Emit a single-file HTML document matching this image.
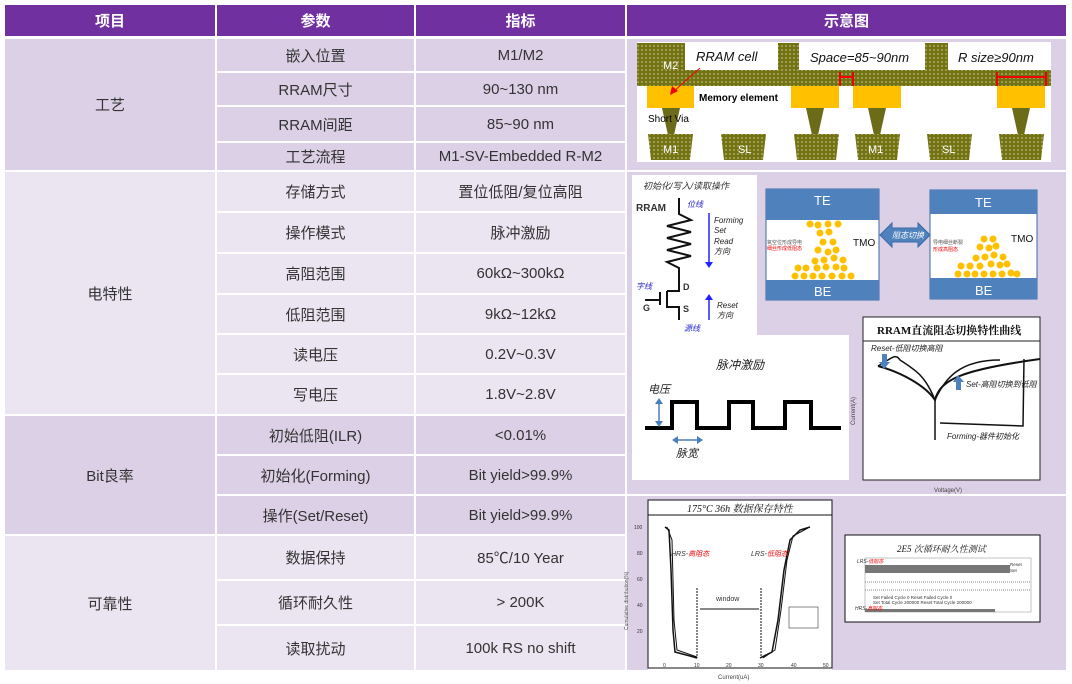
<!DOCTYPE html>
<html><head><meta charset="utf-8"><style>
*{margin:0;padding:0;box-sizing:border-box}
body{width:1072px;height:684px;background:#fff;position:relative;overflow:hidden;font-family:"Liberation Sans","Noto Sans CJK SC",sans-serif;}
.c{position:absolute;display:flex;align-items:center;justify-content:center;font-size:15px;color:#333;}
.h{background:#7030a0;color:#fff;font-weight:bold;}
.d{background:#dcd0e6}.l{background:#ebe4f1}
svg{position:absolute;left:0;top:0}
</style></head><body>
<div class="c h" style="left:5px;top:5px;width:210px;height:31px">项目</div>
<div class="c h" style="left:217px;top:5px;width:197px;height:31px">参数</div>
<div class="c h" style="left:416px;top:5px;width:209px;height:31px">指标</div>
<div class="c h" style="left:627px;top:5px;width:439px;height:31px">示意图</div>

<div class="c d" style="left:5px;top:39px;width:210px;height:131px">工艺</div>
<div class="c d" style="left:217px;top:39px;width:197px;height:32px">嵌入位置</div>
<div class="c d" style="left:416px;top:39px;width:209px;height:32px">M1/M2</div>
<div class="c d" style="left:217px;top:73px;width:197px;height:32px">RRAM尺寸</div>
<div class="c d" style="left:416px;top:73px;width:209px;height:32px">90~130 nm</div>
<div class="c d" style="left:217px;top:107px;width:197px;height:34px">RRAM间距</div>
<div class="c d" style="left:416px;top:107px;width:209px;height:34px">85~90 nm</div>
<div class="c d" style="left:217px;top:143px;width:197px;height:27px">工艺流程</div>
<div class="c d" style="left:416px;top:143px;width:209px;height:27px">M1-SV-Embedded R-M2</div>
<div class="c d" style="left:627px;top:39px;width:439px;height:131px"></div>

<div class="c l" style="left:5px;top:172px;width:210px;height:242px">电特性</div>
<div class="c l" style="left:217px;top:172px;width:197px;height:39px">存储方式</div>
<div class="c l" style="left:416px;top:172px;width:209px;height:39px">置位低阻/复位高阻</div>
<div class="c l" style="left:217px;top:213px;width:197px;height:39px">操作模式</div>
<div class="c l" style="left:416px;top:213px;width:209px;height:39px">脉冲激励</div>
<div class="c l" style="left:217px;top:254px;width:197px;height:39px">高阻范围</div>
<div class="c l" style="left:416px;top:254px;width:209px;height:39px">60kΩ~300kΩ</div>
<div class="c l" style="left:217px;top:295px;width:197px;height:38px">低阻范围</div>
<div class="c l" style="left:416px;top:295px;width:209px;height:38px">9kΩ~12kΩ</div>
<div class="c l" style="left:217px;top:335px;width:197px;height:38px">读电压</div>
<div class="c l" style="left:416px;top:335px;width:209px;height:38px">0.2V~0.3V</div>
<div class="c l" style="left:217px;top:375px;width:197px;height:39px">写电压</div>
<div class="c l" style="left:416px;top:375px;width:209px;height:39px">1.8V~2.8V</div>
<div class="c d" style="left:627px;top:172px;width:439px;height:322px"></div>

<div class="c d" style="left:5px;top:416px;width:210px;height:118px">Bit良率</div>
<div class="c d" style="left:217px;top:416px;width:197px;height:38px">初始低阻(ILR)</div>
<div class="c d" style="left:416px;top:416px;width:209px;height:38px">&lt;0.01%</div>
<div class="c d" style="left:217px;top:456px;width:197px;height:38px">初始化(Forming)</div>
<div class="c d" style="left:416px;top:456px;width:209px;height:38px">Bit yield&gt;99.9%</div>
<div class="c d" style="left:217px;top:496px;width:197px;height:38px">操作(Set/Reset)</div>
<div class="c d" style="left:416px;top:496px;width:209px;height:38px">Bit yield&gt;99.9%</div>

<div class="c l" style="left:5px;top:536px;width:210px;height:134px">可靠性</div>
<div class="c l" style="left:217px;top:536px;width:197px;height:43px">数据保持</div>
<div class="c l" style="left:416px;top:536px;width:209px;height:43px">85℃/10 Year</div>
<div class="c l" style="left:217px;top:581px;width:197px;height:43px">循环耐久性</div>
<div class="c l" style="left:416px;top:581px;width:209px;height:43px">&gt; 200K</div>
<div class="c l" style="left:217px;top:626px;width:197px;height:44px">读取扰动</div>
<div class="c l" style="left:416px;top:626px;width:209px;height:44px">100k RS no shift</div>
<div class="c d" style="left:627px;top:496px;width:439px;height:174px"></div>

<svg width="1072" height="684" font-family="Liberation Sans, Noto Sans CJK SC, sans-serif">
<defs><pattern id="dt" width="4" height="4" patternUnits="userSpaceOnUse"><rect width="4" height="4" fill="#737312"/><circle cx="2" cy="2" r="0.6" fill="#fff"/></pattern></defs>
<rect x="637" y="42" width="414" height="120" fill="#fff"/>
<rect x="637" y="43" width="414" height="43" fill="url(#dt)"/>
<rect x="685" y="43" width="93" height="27" fill="#fff"/>
<rect x="799" y="43" width="126" height="27" fill="#fff"/>
<rect x="948" y="43" width="103" height="27" fill="#fff"/>
<g font-style="italic" font-size="13" fill="#111"><text x="696" y="61">RRAM cell</text><text x="810" y="62">Space=85~90nm</text><text x="958" y="62">R size≥90nm</text></g>
<text x="663" y="69" font-size="11" fill="#fff">M2</text>
<g fill="#ffc000"><rect x="647" y="86" width="47" height="22"/><rect x="791" y="86" width="48" height="22"/><rect x="853" y="86" width="48" height="22"/><rect x="997" y="86" width="48" height="22"/></g>
<g fill="#6b6b18"><polygon points="662,108 680,108 674,135 668,135"/><polygon points="806,108 824,108 818,135 812,135"/><polygon points="868,108 886,108 880,135 874,135"/><polygon points="1012,108 1030,108 1024,135 1018,135"/></g>
<g fill="url(#dt)"><polygon points="648,134 693,134 690,160 651,160"/><polygon points="721,134 766,134 763,160 724,160"/><polygon points="794,134 839,134 836,160 797,160"/><polygon points="855,134 900,134 897,160 858,160"/><polygon points="927,134 972,134 969,160 930,160"/><polygon points="999,134 1044,134 1041,160 1002,160"/></g>
<g font-size="11" fill="#fff"><text x="663" y="153">M1</text><text x="738" y="153">SL</text><text x="868" y="153">M1</text><text x="942" y="153">SL</text></g>
<text x="699" y="101" font-size="10" font-weight="bold">Memory element</text>
<text x="648" y="122" font-size="10">Short Via</text>
<line x1="700" y1="68" x2="673" y2="92" stroke="#e00" stroke-width="1"/><polygon points="670,95 672,86 678,91" fill="#e00"/>
<g stroke="#e00" stroke-width="2"><line x1="840" y1="72" x2="840" y2="86"/><line x1="853" y1="72" x2="853" y2="86"/><line x1="840" y1="77" x2="853" y2="77"/><line x1="997" y1="72" x2="997" y2="86"/><line x1="1046" y1="72" x2="1046" y2="86"/><line x1="997" y1="77" x2="1046" y2="77"/></g>
<rect x="632" y="175" width="125" height="160" fill="#fff"/>
<text x="643" y="189" font-size="9" font-style="italic" fill="#333">初始化/写入/读取操作</text>
<text x="636" y="211" font-size="10" font-weight="bold" fill="#333">RRAM</text>
<text x="687" y="207" font-size="8" fill="#22c" font-style="italic">位线</text>
<polyline points="679,198 679,214 691,220 667,226 691,232 667,238 691,244 667,250 691,256 667,262 679,268 679,285" fill="none" stroke="#111" stroke-width="2"/>
<line x1="709" y1="213" x2="709" y2="262" stroke="#22f" stroke-width="1.5"/><polygon points="705,262 713,262 709,268" fill="#22f"/>
<g font-size="8" font-style="italic" fill="#222"><text x="714" y="223">Forming</text><text x="714" y="233">Set</text><text x="714" y="244">Read</text><text x="714" y="254">方向</text><text x="717" y="308">Reset</text><text x="717" y="318">方向</text></g>
<line x1="709" y1="300" x2="709" y2="320" stroke="#22f" stroke-width="1.5"/><polygon points="705,300 713,300 709,294" fill="#22f"/>
<polyline points="679,285 679,291 667,291" fill="none" stroke="#111" stroke-width="2"/>
<line x1="667" y1="291" x2="667" y2="308" stroke="#111" stroke-width="2"/><line x1="660" y1="292" x2="660" y2="305" stroke="#111" stroke-width="2"/>
<line x1="645" y1="300" x2="660" y2="300" stroke="#111" stroke-width="2"/>
<polyline points="667,307 679,307 679,320" fill="none" stroke="#111" stroke-width="2"/>
<g font-size="9" font-weight="bold" fill="#333"><text x="683" y="290">D</text><text x="683" y="312">S</text><text x="643" y="311">G</text></g>
<text x="636" y="289" font-size="8" fill="#22c" font-style="italic">字线</text>
<text x="684" y="331" font-size="8" fill="#22c" font-style="italic">源线</text>
<rect x="632" y="335" width="217" height="145" fill="#fff"/>
<text x="716" y="369" font-size="12" font-style="italic" fill="#222">脉冲激励</text>
<text x="648" y="393" font-size="11" font-style="italic" fill="#222">电压</text>
<polyline points="645,428 672,428 672,402 697,402 697,428 729,428 729,402 753,402 753,428 785,428 785,402 811,402 811,428 841,428" fill="none" stroke="#000" stroke-width="4"/>
<line x1="659" y1="403" x2="659" y2="422" stroke="#4a7cc0" stroke-width="1.5"/><polygon points="655,404 663,404 659,398" fill="#4a7cc0"/><polygon points="655,421 663,421 659,427" fill="#4a7cc0"/>
<line x1="678" y1="440" x2="697" y2="440" stroke="#4a7cc0" stroke-width="1.5"/><polygon points="678,436 678,444 672,440" fill="#4a7cc0"/><polygon points="697,436 697,444 703,440" fill="#4a7cc0"/>
<text x="676" y="457" font-size="11" font-style="italic" fill="#222">脉宽</text>
<rect x="766" y="189" width="113" height="111" fill="#fff" stroke="#3a6aa8"/>
<rect x="766" y="189" width="113" height="31" fill="#4f81bd"/><rect x="766" y="280" width="113" height="20" fill="#4f81bd"/>
<text x="814" y="205" font-size="13" fill="#fff">TE</text><text x="814" y="296" font-size="13" fill="#fff">BE</text>
<text x="853" y="246" font-size="10" fill="#111">TMO</text>
<text x="767" y="244" font-size="5" fill="#555">氧空位形成导电</text><text x="767" y="250" font-size="5" fill="#e00">细丝形成低阻态</text>
<g fill="#ffc000"><circle cx="810" cy="224" r="3.5"/><circle cx="818" cy="225" r="3.5"/><circle cx="828" cy="224" r="3.5"/><circle cx="838" cy="224" r="3.5"/><circle cx="820" cy="233" r="3.5"/><circle cx="829" cy="232" r="3.5"/><circle cx="823" cy="242" r="3.5"/><circle cx="833" cy="242" r="3.5"/><circle cx="818" cy="250" r="3.5"/><circle cx="828" cy="252" r="3.5"/><circle cx="836" cy="250" r="3.5"/><circle cx="815" cy="261" r="3.5"/><circle cx="824" cy="260" r="3.5"/><circle cx="834" cy="258" r="3.5"/><circle cx="843" cy="260" r="3.5"/><circle cx="798" cy="268" r="3.5"/><circle cx="806" cy="268" r="3.5"/><circle cx="817" cy="268" r="3.5"/><circle cx="826" cy="267" r="3.5"/><circle cx="836" cy="267" r="3.5"/><circle cx="844" cy="268" r="3.5"/><circle cx="795" cy="276" r="3.5"/><circle cx="804" cy="276" r="3.5"/><circle cx="813" cy="276" r="3.5"/><circle cx="822" cy="276" r="3.5"/><circle cx="832" cy="276" r="3.5"/><circle cx="842" cy="276" r="3.5"/><circle cx="851" cy="276" r="3.5"/></g>
<rect x="930" y="190" width="107" height="109" fill="#fff" stroke="#3a6aa8"/>
<rect x="930" y="190" width="107" height="24" fill="#4f81bd"/><rect x="930" y="278" width="107" height="21" fill="#4f81bd"/>
<text x="975" y="207" font-size="13" fill="#fff">TE</text><text x="975" y="295" font-size="13" fill="#fff">BE</text>
<text x="1011" y="242" font-size="10" fill="#111">TMO</text>
<text x="933" y="244" font-size="5" fill="#555">导电细丝断裂</text><text x="933" y="251" font-size="5" fill="#e00">形成高阻态</text>
<g fill="#ffc000"><circle cx="984" cy="239" r="3.5"/><circle cx="993" cy="239" r="3.5"/><circle cx="980" cy="247" r="3.5"/><circle cx="989" cy="248" r="3.5"/><circle cx="996" cy="246" r="3.5"/><circle cx="976" cy="258" r="3.5"/><circle cx="985" cy="257" r="3.5"/><circle cx="994" cy="255" r="3.5"/><circle cx="1003" cy="257" r="3.5"/><circle cx="961" cy="266" r="3.5"/><circle cx="970" cy="266" r="3.5"/><circle cx="980" cy="266" r="3.5"/><circle cx="991" cy="264" r="3.5"/><circle cx="1000" cy="265" r="3.5"/><circle cx="1007" cy="264" r="3.5"/><circle cx="958" cy="274" r="3.5"/><circle cx="967" cy="274" r="3.5"/><circle cx="975" cy="274" r="3.5"/><circle cx="984" cy="274" r="3.5"/><circle cx="993" cy="274" r="3.5"/><circle cx="1002" cy="274" r="3.5"/><circle cx="1011" cy="273" r="3.5"/><circle cx="1017" cy="274" r="3.5"/></g>
<polygon points="880,235 892,223 892,228 918,228 918,223 930,235 918,247 918,242 892,242 892,247" fill="#4f81bd" stroke="#3a6aa8"/>
<text x="892" y="238" font-size="8" fill="#fff" font-style="italic">阻态切换</text>
<rect x="863" y="317" width="177" height="163" fill="#fff" stroke="#222"/>
<line x1="863" y1="341" x2="1040" y2="341" stroke="#222"/>
<text x="877" y="334" font-size="11" font-weight="bold" font-family="Liberation Serif, Noto Serif CJK SC, serif" fill="#111">RRAM直流阻态切换特性曲线</text>
<text x="871" y="351" font-size="8" font-style="italic" fill="#222">Reset-低阻切换高阻</text>
<path d="M878,366 C900,372 925,385 935,400 C940,380 960,370 1040,359" fill="none" stroke="#111" stroke-width="2"/>
<path d="M878,366 C890,360 895,352 900,360 C915,370 925,375 935,400 C945,378 960,360 1000,360" fill="none" stroke="#111" stroke-width="1.5"/>
<line x1="935" y1="400" x2="935" y2="440" stroke="#111" stroke-width="1.5"/>
<path d="M940,423 L1023,426 L1024,359" fill="none" stroke="#111" stroke-width="1.5"/>
<rect x="882" y="354" width="5" height="8" fill="#4f81bd"/><polygon points="879,362 890,362 884,369" fill="#4f81bd"/>
<rect x="956" y="382" width="5" height="8" fill="#4f81bd"/><polygon points="953,382 964,382 958,375" fill="#4f81bd"/>
<text x="966" y="387" font-size="8" font-style="italic" fill="#222">Set-高阻切换到低阻</text>
<text x="947" y="439" font-size="8" font-style="italic" fill="#222">Forming-器件初始化</text>
<text x="934" y="492" font-size="6" fill="#444">Voltage(V)</text>
<text x="855" y="425" font-size="6" fill="#444" transform="rotate(-90 855 425)">Current(A)</text>
<rect x="648" y="500" width="184" height="170" fill="#fff"/>
<rect x="648" y="500" width="184" height="15" fill="#fff" stroke="#111"/>
<text x="687" y="512" font-size="10" font-style="italic" font-family="Liberation Serif, Noto Serif CJK SC, serif" fill="#111">175°C 36h 数据保存特性</text>
<rect x="648" y="515" width="184" height="153" fill="none" stroke="#111"/>
<g font-size="5" fill="#333"><text x="634" y="529">100</text><text x="637" y="555">80</text><text x="637" y="581">60</text><text x="637" y="607">40</text><text x="637" y="633">20</text><text x="663" y="667">0</text><text x="694" y="667">10</text><text x="726" y="667">20</text><text x="758" y="667">30</text><text x="791" y="667">40</text><text x="823" y="667">50</text></g>
<text x="718" y="679" font-size="6" fill="#444">Current(uA)</text>
<text x="628" y="630" font-size="5" fill="#444" transform="rotate(-90 628 630)">Cumulative distribution(%)</text>
<path d="M665,527 L669,530 L671,570 L673,630 L675,652 L690,656 L697,658" fill="none" stroke="#111" stroke-width="1.5"/>
<path d="M667,527 L672,540 L674,620 L677,650 L697,657" fill="none" stroke="#111" stroke-width="1"/>
<path d="M760,658 L772,652 L778,620 L784,570 L790,540 L800,530 L810,527" fill="none" stroke="#111" stroke-width="1.5"/>
<path d="M763,658 L775,650 L781,610 L787,560 L793,536 L808,528" fill="none" stroke="#111" stroke-width="1"/>
<line x1="697" y1="588" x2="697" y2="658" stroke="#111" stroke-dasharray="2,1"/><line x1="761" y1="588" x2="761" y2="658" stroke="#111" stroke-dasharray="2,1"/>
<line x1="700" y1="609" x2="759" y2="609" stroke="#111"/>
<text x="716" y="601" font-size="7" fill="#333">window</text>
<text x="671" y="556" font-size="7" font-style="italic" fill="#333">HRS-<tspan fill="#e00">高阻态</tspan></text>
<text x="751" y="556" font-size="7" font-style="italic" fill="#333">LRS-<tspan fill="#e00">低阻态</tspan></text>
<rect x="789" y="607" width="29" height="21" fill="#fff" stroke="#111" stroke-width="0.5"/>
<rect x="845" y="535" width="195" height="87" fill="#fff" stroke="#111"/>
<text x="897" y="552" font-size="9" font-style="italic" font-family="Liberation Serif, Noto Serif CJK SC, serif" fill="#111">2E5 次循环耐久性测试</text>
<rect x="865" y="558" width="166" height="54" fill="#fff" stroke="#888" stroke-width="0.5"/>
<rect x="865" y="565" width="145" height="8" fill="#777"/>
<rect x="865" y="609" width="130" height="3" fill="#777"/>
<line x1="865" y1="582" x2="1031" y2="582" stroke="#888" stroke-dasharray="1,1"/><line x1="865" y1="590" x2="1031" y2="590" stroke="#888" stroke-dasharray="1,1"/>
<g font-size="4.5" fill="#333"><text x="873" y="599">Set Failed Cycle   0      Reset Failed Cycle 0</text><text x="873" y="604">Set Total Cycle   200000  Reset Total Cycle 200000</text><text x="1010" y="566">Reset</text><text x="1010" y="572">Set</text></g>
<text x="857" y="563" font-size="5" font-style="italic" fill="#333">LRS-<tspan fill="#e00">低阻态</tspan></text>
<text x="855" y="610" font-size="5" font-style="italic" fill="#333">HRS-<tspan fill="#e00">高阻态</tspan></text>
</svg>
</body></html>
